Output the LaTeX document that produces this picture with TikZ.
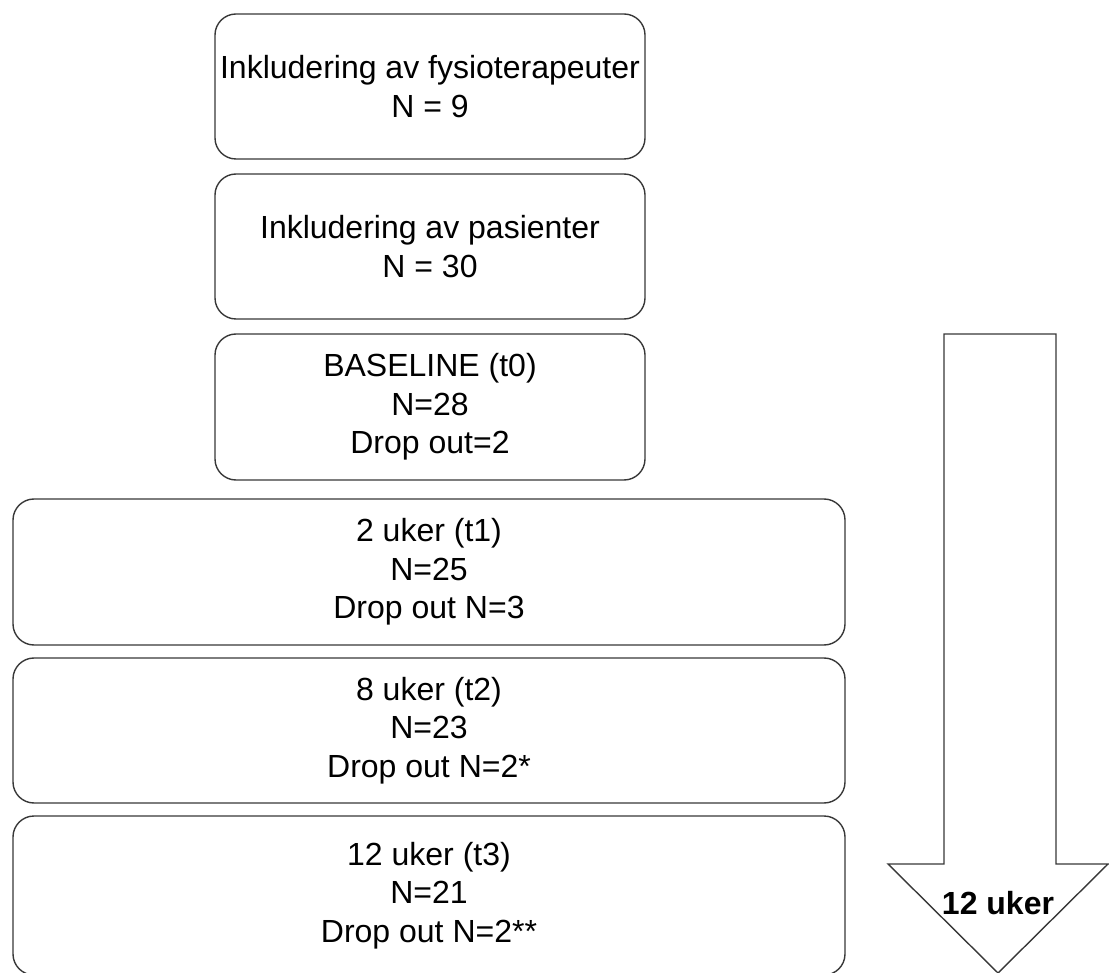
\documentclass[tikz,border=0pt]{standalone}
\usepackage{fontspec}
\setmainfont{Liberation Sans}
\begin{document}
\begin{tikzpicture}[x=1pt,y=-1pt,
  box/.style={draw=black!78,line width=1.4pt,rounded corners=21pt,align=center,
    inner sep=0pt,outer sep=0pt,font=\fontsize{32pt}{38.5pt}\selectfont},
  narrowbox/.style={box,minimum width=430pt,minimum height=145pt},
  widebox/.style={box,minimum width=832pt,minimum height=146pt},
  bigarrow/.style={draw=black!78,line width=1.4pt,fill=white,line join=miter}]
\useasboundingbox (0,0) rectangle (1109,973);
\node[narrowbox] (b1) at (430,86.5) {Inkludering av fysioterapeuter\\N = 9};
\node[narrowbox] (b2) at (430,246.5) {Inkludering av pasienter\\N = 30};
\node[narrowbox,minimum height=146pt] (b3) at (430,407) {BASELINE (t0)\\N=28\\Drop out=2};
\node[widebox] (b4) at (429,572) {2 uker (t1)\\N=25\\Drop out N=3};
\node[widebox,minimum height=145pt] (b5) at (429,730.5) {8 uker (t2)\\N=23\\Drop out N=2*};
\node[widebox,minimum height=159pt] (b6) at (429,895.5) {12 uker (t3)\\N=21\\Drop out N=2**};
\draw[bigarrow] (944,334) -- (1056,334) -- (1056,864) -- (1108,864) -- (998,973)
  -- (888,864) -- (944,864) -- cycle;
\node[font=\fontsize{32pt}{38pt}\selectfont\bfseries] (lbl) at (998,903) {12 uker};
\end{tikzpicture}
\end{document}
